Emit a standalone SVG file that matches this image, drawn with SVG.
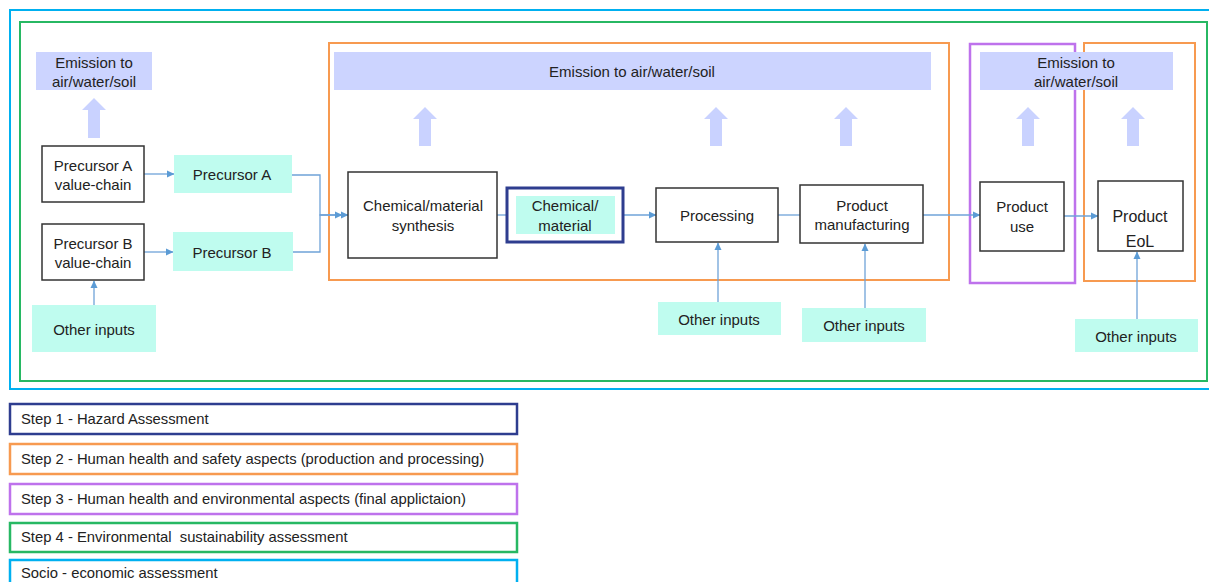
<svg xmlns="http://www.w3.org/2000/svg" width="1209" height="582" viewBox="0 0 1209 582">
<style>
text{font-family:"Liberation Sans",Arial,sans-serif;font-size:15px;fill:#222;text-anchor:middle;dominant-baseline:central}
.lg{font-size:14.8px;text-anchor:start}
.box{fill:#fff;stroke:#333;stroke-width:1.5}
.teal{fill:#BFFCEF}
.em{fill:#CCD4FF}
.up{fill:#C9D2FF}
.con{fill:none;stroke:#6FA3D8;stroke-width:1.3}
.fr{fill:none}
</style>
<defs>
<marker id="ah" markerWidth="8" markerHeight="8" refX="7" refY="4" orient="auto" markerUnits="userSpaceOnUse"><path d="M0,0.5 L7.5,4 L0,7.5 Z" fill="#5B9BD5"/></marker>
</defs>
<g id="frames">
<rect x="10" y="10" width="1210" height="379" class="fr" stroke="#00B0F0" stroke-width="2"/>
<rect x="20" y="22" width="1187" height="359" class="fr" stroke="#27B863" stroke-width="2"/>
<rect x="329" y="43" width="620" height="237" class="fr" stroke="#F79A50" stroke-width="2"/>
<rect x="970" y="44" width="105" height="239" class="fr" stroke="#BE72EC" stroke-width="2.5"/>
<rect x="1084" y="43" width="111" height="238" class="fr" stroke="#F79A50" stroke-width="2"/>
</g>
<g id="emissions">
<rect x="36" y="52" width="116" height="38" class="em"/>
<text x="94" y="62">Emission to</text><text x="94" y="81">air/water/soil</text>
<rect x="334" y="52" width="597" height="38" class="em"/>
<text x="632" y="71">Emission to air/water/soil</text>
<rect x="980" y="52" width="193" height="38" class="em"/>
<text x="1076" y="62">Emission to</text><text x="1076" y="81">air/water/soil</text>
</g>
<g id="up-arrows">
<polygon class="up" points="94,98 106,110 100,110 100,138 88,138 88,110 82,110"/>
<polygon class="up" points="425,107 437,119 431,119 431,146 419,146 419,119 413,119"/>
<polygon class="up" points="716,107 728,119 722,119 722,146 710,146 710,119 704,119"/>
<polygon class="up" points="846,107 858,119 852,119 852,146 840,146 840,119 834,119"/>
<polygon class="up" points="1028,107 1040,119 1034,119 1034,146 1022,146 1022,119 1016,119"/>
<polygon class="up" points="1133,107 1145,119 1139,119 1139,146 1127,146 1127,119 1121,119"/>
</g>
<g id="connectors">
<line class="con" x1="144" y1="174" x2="174" y2="174" marker-end="url(#ah)"/>
<line class="con" x1="144" y1="252" x2="173" y2="252" marker-end="url(#ah)"/>
<line class="con" x1="94" y1="305" x2="94" y2="281" marker-end="url(#ah)"/>
<path class="con" d="M292,175 H320 V215 H348" marker-end="url(#ah)"/>
<path class="con" d="M293,252 H320 V215 H342" marker-end="url(#ah)"/>
<line class="con" x1="497" y1="215" x2="516" y2="215"/>
<line class="con" x1="615" y1="215" x2="656" y2="215" marker-end="url(#ah)"/>
<line class="con" x1="778" y1="215" x2="800" y2="215"/>
<line class="con" x1="923" y1="215" x2="980" y2="215" marker-end="url(#ah)"/>
<line class="con" x1="1064" y1="216" x2="1098" y2="216" marker-end="url(#ah)"/>
<line class="con" x1="718" y1="312" x2="718" y2="243" marker-end="url(#ah)"/>
<line class="con" x1="865" y1="318" x2="865" y2="244" marker-end="url(#ah)"/>
<line class="con" x1="1137" y1="322" x2="1137" y2="252" marker-end="url(#ah)"/>
</g>
<g id="precursorA-vc"><rect x="42" y="146" width="102" height="56" class="box"/><text x="93" y="165">Precursor A</text><text x="93" y="184">value-chain</text></g>
<g id="precursorB-vc"><rect x="42" y="224" width="102" height="56" class="box"/><text x="93" y="243">Precursor B</text><text x="93" y="262">value-chain</text></g>
<g id="other-inputs-1"><rect x="32" y="305" width="124" height="47" class="teal"/><text x="94" y="329">Other inputs</text></g>
<g id="precursorA"><rect x="174" y="155" width="118" height="38" class="teal"/><text x="232" y="174">Precursor A</text></g>
<g id="precursorB"><rect x="173" y="232" width="120" height="39" class="teal"/><text x="232" y="252">Precursor B</text></g>
<g id="synthesis"><rect x="348" y="172" width="149" height="86" class="box"/><text x="423" y="205">Chemical/material</text><text x="423" y="225">synthesis</text></g>
<g id="chemical-material"><rect x="507" y="188" width="116" height="54" fill="#fff" stroke="#2E3D8F" stroke-width="3"/><rect x="516" y="196" width="99" height="38" class="teal"/><text x="565" y="205">Chemical/</text><text x="565" y="225">material</text></g>
<g id="processing"><rect x="656" y="188" width="122" height="54" class="box"/><text x="717" y="215">Processing</text></g>
<g id="manufacturing"><rect x="800" y="185" width="123" height="58" class="box"/><text x="862" y="205">Product</text><text x="862" y="224">manufacturing</text></g>
<g id="product-use"><rect x="980" y="182" width="84" height="69" class="box"/><text x="1022" y="206">Product</text><text x="1022" y="226">use</text></g>
<g id="product-eol"><rect x="1098" y="181" width="85" height="70" class="box"/><text x="1140" y="216" style="font-size:16px">Product</text><text x="1140" y="241" style="font-size:16px">EoL</text></g>
<g id="other-inputs-2"><rect x="658" y="302" width="123" height="33" class="teal"/><text x="719" y="319">Other inputs</text></g>
<g id="other-inputs-3"><rect x="802" y="308" width="124" height="34" class="teal"/><text x="864" y="325">Other inputs</text></g>
<g id="other-inputs-4"><rect x="1075" y="319" width="123" height="33" class="teal"/><text x="1136" y="336">Other inputs</text></g>
<g id="legend">
<rect x="10" y="404" width="507" height="30" fill="#fff" stroke="#2E3D8F" stroke-width="2.5"/><text class="lg" x="21" y="419">Step 1 - Hazard Assessment</text>
<rect x="10" y="444" width="507" height="30" fill="#fff" stroke="#F79A50" stroke-width="2.5"/><text class="lg" x="21" y="459">Step 2 - Human health and safety aspects (production and processing)</text>
<rect x="10" y="484" width="507" height="30" fill="#fff" stroke="#BE72EC" stroke-width="2.5"/><text class="lg" x="21" y="499">Step 3 - Human health and environmental aspects (final applictaion)</text>
<rect x="10" y="523" width="507" height="29" fill="#fff" stroke="#27B863" stroke-width="2.5"/><text class="lg" x="21" y="537">Step 4 - Environmental&#160; sustainability assessment</text>
<rect x="10" y="560" width="507" height="30" fill="#fff" stroke="#00B0F0" stroke-width="2.5"/><text class="lg" x="21" y="573">Socio - economic assessment</text>
</g>
</svg>
